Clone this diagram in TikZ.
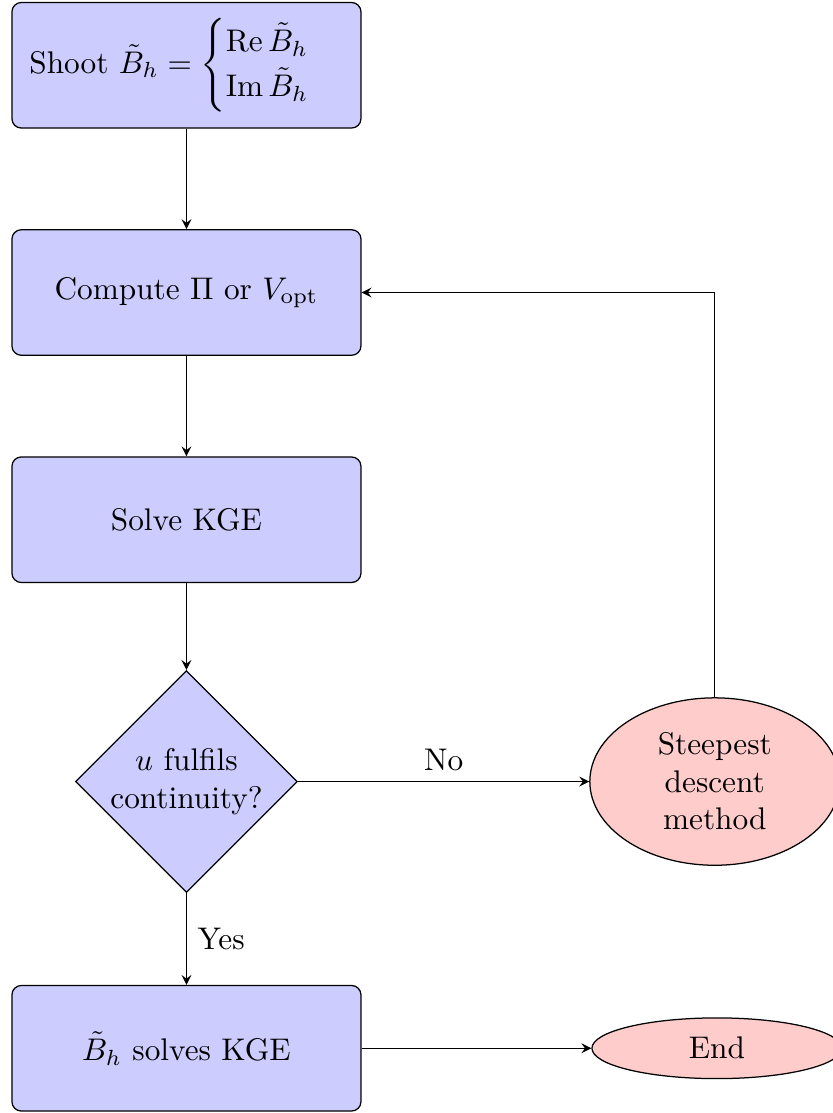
\documentclass[tikz,border=0pt]{standalone}
\usepackage{amsmath,amssymb}
\usepackage{tikz}
\usetikzlibrary{shapes,arrows.meta,positioning,calc}

\begin{document}
\begin{tikzpicture}[
    >=stealth,
    block/.style={rectangle,rounded corners=3pt,draw,fill=blue!20,minimum width=3.92cm,minimum height=1.41cm,align=center},
    decision/.style={diamond,draw,fill=blue!20,aspect=1,inner sep=0.3pt,align=center},
    terminal/.style={ellipse,draw,fill=red!20,text width=1.75cm,align=center}
  ]
  \useasboundingbox (0,0) rectangle (9.355,-12.5);
  % Main column
  \node[block] (shoot) at (2.094,-0.733) {Shoot\ $\tilde{B}_h = \begin{cases}\operatorname{Re}\tilde{B}_h\\ \operatorname{Im}\tilde{B}_h\end{cases}$};
  \node[block,below=1.128cm of shoot] (compute) {Compute $\Pi$ or $V_{\mathrm{opt}}$};
  \node[block,below=1.128cm of compute] (solve) {Solve KGE};
  \node[decision,below=0.975cm of solve] (check) {$u$ fulfils\\continuity?};
  \node[block,below=1.03cm of check] (solved) {$\tilde{B}_h$ solves KGE};
  % Side column
  \node[terminal,right=3.27cm of check] (steep) {Steepest descent method};
  \node[terminal,right=2.58cm of solved] (end) {End};
  % Arrows
  \draw[->] (shoot) -- (compute);
  \draw[->] (compute) -- (solve);
  \draw[->] (solve) -- (check);
  \draw[->] (check) -- node[above] {No} (steep);
  \draw[->] (check) -- node[right] {Yes} (solved);
  \draw[->] (steep.north) |- (compute.east);
  \draw[->] (solved) -- (end);
\end{tikzpicture}
\end{document}
